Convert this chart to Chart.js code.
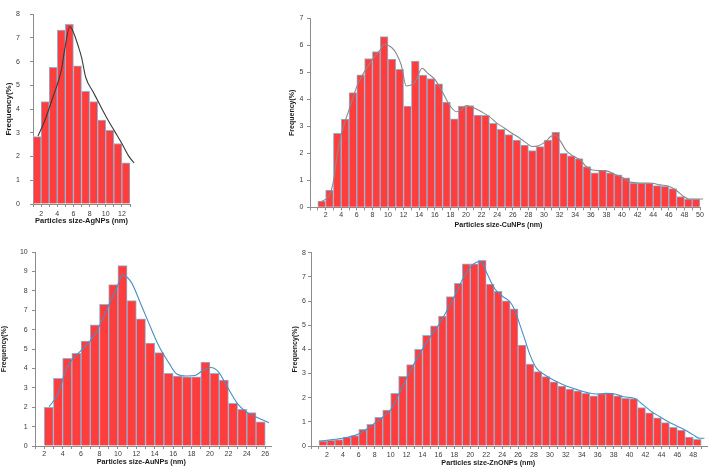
<!DOCTYPE html>
<html><head><meta charset="utf-8">
<script src="https://cdn.jsdelivr.net/npm/chart.js@4.4.1/dist/chart.umd.min.js"></script>
<style>
html,body{margin:0;padding:0;background:#fff;width:709px;height:469px;overflow:hidden;position:relative}
canvas{position:absolute;display:block}
</style></head><body>
<canvas id="cAg" width="150" height="232" style="left:0px;top:0px"></canvas>
<canvas id="cCu" width="454" height="232" style="left:255px;top:0px"></canvas>
<canvas id="cAu" width="280" height="234" style="left:0px;top:235px"></canvas>
<canvas id="cZn" width="427" height="234" style="left:282px;top:235px"></canvas>
<script>
// ---------- DATA ----------
// AgNPs
const agBinStart = [1,2,3,4,5,6,7,8,9,10,11,12];
const agFreq = [2.84,4.32,5.76,7.33,7.57,5.82,4.75,4.32,3.54,3.11,2.55,1.74];
const agFitX = [1.62,2.45,3.48,4.52,4.93,5.55,6.05,6.59,7.0,7.54,8.45,9.27,10.1,11.14,11.96,12.8,13.5];
const agFitY = [2.87,3.51,4.52,5.66,6.53,7.47,7.2,6.66,6.19,5.32,4.72,4.18,3.65,3.04,2.57,2.04,1.73];
const agTickLabels = ['2','4','6','8','10','12'];

// CuNPs
const cuBinStart = [1,2,3,4,5,6,7,8,9,10,11,12,13,14,15,16,17,18,19,20,21,22,23,24,25,26,27,28,29,30,31,32,33,34,35,36,37,38,39,40,41,42,43,44,45,46,47,48,49];
const cuFreq = [0.23,0.64,2.74,3.27,4.25,4.91,5.51,5.77,6.32,5.49,5.11,3.75,5.42,4.9,4.77,4.57,3.9,3.28,3.75,3.77,3.42,3.41,3.11,2.89,2.69,2.49,2.30,2.10,2.25,2.49,2.79,2.0,1.91,1.80,1.51,1.28,1.37,1.28,1.20,1.09,0.90,0.90,0.90,0.80,0.78,0.69,0.40,0.30,0.30];
const cuFitX = [1.44,2.51,3.03,3.45,4.0,4.99,6.0,6.97,7.98,9.0,9.56,10.5,11.06,11.7,12.34,13.2,13.62,14.35,15.12,16.06,16.83,18.03,18.75,19.39,20.0,20.9,21.96,23.0,24.0,24.95,25.9,26.9,27.9,28.5,29.3,30.2,30.85,31.4,32.15,32.8,33.7,34.7,35.4,36.2,37.0,37.97,39.0,40.0,40.9,41.9,42.97,43.9,44.9,45.9,46.9,47.9,48.6,50.4];
const cuFitY = [0.21,0.46,1.01,1.88,2.7,3.6,4.47,5.02,5.46,5.83,6.04,5.91,5.7,5.27,4.49,4.57,4.72,5.15,4.96,4.72,4.35,3.73,3.54,3.6,3.77,3.70,3.54,3.36,3.11,2.93,2.74,2.56,2.35,2.25,2.28,2.43,2.62,2.68,2.43,2.12,1.90,1.75,1.51,1.38,1.36,1.35,1.23,1.11,0.95,0.91,0.90,0.89,0.83,0.79,0.64,0.40,0.31,0.31];
const cuTickLabels = ['2','4','6','8','10','12','14','16','18','20','22','24','26','28','30','32','34','36','38','40','42','44','46','48','50'];

// AuNPs
const auBinStart = [2,3,4,5,6,7,8,9,10,11,12,13,14,15,16,17,18,19,20,21,22,23,24,25];
const auFreq = [1.99,3.49,4.52,4.78,5.41,6.25,7.30,8.32,9.30,7.49,6.56,5.31,4.81,3.75,3.61,3.57,3.57,4.33,3.75,3.40,2.20,1.89,1.72,1.24];
const auFitX = [2.54,3.52,4.42,5.51,6.59,7.68,8.77,9.85,10.5,11.48,12.38,13.29,14.45,15.55,16.4,17.46,18.37,19.28,20.1,20.9,21.86,22.96,23.9,24.8,26.4];
const auFitY = [2.03,2.71,4.0,4.69,5.2,5.89,7.01,8.13,8.81,8.42,7.44,6.41,5.15,4.27,3.71,3.61,3.63,3.92,4.05,3.83,3.06,2.2,1.77,1.55,1.2];
const auTickLabels = ['2','4','6','8','10','12','14','16','18','20','22','24','26'];

// ZnONPs
const znBinStart = [1,2,3,4,5,6,7,8,9,10,11,12,13,14,15,16,17,18,19,20,21,22,23,24,25,26,27,28,29,30,31,32,33,34,35,36,37,38,39,40,41,42,43,44,45,46,47,48];
const znFreq = [0.20,0.23,0.27,0.37,0.43,0.69,0.90,1.19,1.49,2.18,2.88,3.37,4.0,4.58,4.97,5.38,6.18,6.73,7.54,7.54,7.68,6.70,6.40,6.01,5.68,4.18,3.39,3.08,2.87,2.66,2.48,2.36,2.28,2.18,2.08,2.17,2.18,2.08,1.97,1.96,1.59,1.37,1.17,0.97,0.77,0.66,0.37,0.28];
const znFitX = [1.0,2.0,3.0,4.0,4.84,5.97,6.98,7.98,8.99,9.99,10.99,11.99,12.97,13.98,14.98,15.99,16.99,17.99,18.99,19.99,20.75,21.37,22.0,23.05,24.1,24.99,25.58,26.3,26.87,27.5,28.33,29.38,30.43,31.47,32.52,33.56,34.61,35.87,37.1,38.17,39.21,40.68,41.72,42.77,43.82,44.87,45.92,46.97,48.0,48.84,49.4];
const znFitY = [0.2,0.24,0.28,0.32,0.38,0.5,0.69,0.94,1.19,1.49,2.11,2.8,3.42,4.0,4.52,5.0,5.56,6.18,6.87,7.39,7.6,7.63,7.21,6.52,6.18,5.97,5.63,4.95,4.39,3.77,3.21,2.94,2.73,2.57,2.43,2.32,2.22,2.15,2.18,2.15,2.04,1.97,1.7,1.42,1.21,1.0,0.83,0.66,0.46,0.32,0.32];
const znTickLabels = ['2','4','6','8','10','12','14','16','18','20','22','24','26','28','30','32','34','36','38','40','42','44','46','48'];

// ---------- RENDERING ----------
Chart.defaults.font.family = '"Liberation Sans", Arial, sans-serif';
const BAR_FILL = '#ff3d3d';
const BAR_EDGE = '#8db6d6';
const AXIS = '#8c8c8c';
const TICK_TXT = '#3a3a3a';

const xCaption = {
  id: 'xCaption',
  afterDraw(chart, args, o) {
    const {ctx, chartArea} = chart;
    ctx.save();
    ctx.font = 'bold ' + o.size + 'px "Liberation Sans", Arial, sans-serif';
    ctx.fillStyle = '#1a1a1a';
    ctx.textAlign = 'center';
    ctx.textBaseline = 'middle';
    ctx.fillText(o.text, (chartArea.left + chartArea.right) / 2 + o.shift, chart.height - o.fromBottom);
    ctx.restore();
  }
};

function makePanel(id, d, s) {
  const bars = d.bins.map((b, i) => ({x: b + 0.5, y: d.freq[i]}));
  const fit = d.fitX.map((x, i) => ({x: x, y: d.fitY[i]}));
  new Chart(document.getElementById(id), {
    type: 'bar',
    data: {
      datasets: [
        {type: 'line', data: fit, borderColor: s.lineColor, borderWidth: 1.1, pointRadius: 0,
         cubicInterpolationMode: 'monotone', fill: false, clip: false, order: 0},
        {type: 'bar', data: bars, backgroundColor: BAR_FILL, borderColor: BAR_EDGE, borderWidth: 1,
         barPercentage: 1, categoryPercentage: 1, order: 1}
      ]
    },
    options: {
      responsive: false, animation: false, events: [],
      layout: {padding: s.pad},
      plugins: {legend: {display: false}, tooltip: {enabled: false},
        xCaption: {text: d.xTitle, size: s.xTitleSize, shift: s.xTitleShift, fromBottom: s.xTitleFromBottom}},
      scales: {
        x: {
          type: 'linear', min: s.xMin, max: s.xMax, offset: false,
          grid: {display: true, drawOnChartArea: false, drawTicks: true, tickLength: 3, color: AXIS, offset: false},
          border: {display: true, color: AXIS, width: 1},
          ticks: {stepSize: 1, includeBounds: false, autoSkip: false, maxRotation: 0, padding: s.xTickPad,
            color: TICK_TXT, font: {size: 7},
            callback: v => d.tickLabels.includes(String(v)) ? String(v) : ''},
          afterFit: sc => { sc.height = s.xHeight; }
        },
        y: {
          min: 0, max: s.yMax,
          grid: {display: true, drawOnChartArea: false, drawTicks: true, tickLength: 3, color: AXIS},
          border: {display: true, color: AXIS, width: 1},
          ticks: {stepSize: 1, padding: s.yTickPad, color: TICK_TXT, font: {size: 7}},
          title: {display: true, text: 'Frequency(%)', color: '#1a1a1a',
            font: {size: s.yTitleSize, weight: 'bold'}, padding: {top: s.yTitlePad, bottom: 0}},
          afterFit: sc => { sc.width = s.yWidth; }
        }
      }
    },
    plugins: [xCaption]
  });
}

makePanel('cAg',
  {bins: agBinStart, freq: agFreq, fitX: agFitX, fitY: agFitY, tickLabels: agTickLabels, xTitle: 'Particles size-AgNPs (nm)'},
  {lineColor: '#3a3a3a', pad: {left: 0, top: 5, right: 20, bottom: 0}, xMin: 1, xMax: 13, yMax: 8,
   xHeight: 28, yWidth: 33, xTickPad: 2.5, yTickPad: 10, yTitleSize: 8, yTitlePad: 3.5,
   xTitleSize: 7.5, xTitleShift: 0, xTitleFromBottom: 11});

makePanel('cCu',
  {bins: cuBinStart, freq: cuFreq, fitX: cuFitX, fitY: cuFitY, tickLabels: cuTickLabels, xTitle: 'Particles size-CuNPs (nm)'},
  {lineColor: '#8a8a8a', pad: {left: 0, top: 18.3, right: 9, bottom: 0}, xMin: 0, xMax: 50, yMax: 7,
   xHeight: 24.7, yWidth: 55, xTickPad: 1, yTickPad: 3.7, yTitleSize: 7, yTitlePad: 33,
   xTitleSize: 7.1, xTitleShift: -6.5, xTitleFromBottom: 7});

makePanel('cAu',
  {bins: auBinStart, freq: auFreq, fitX: auFitX, fitY: auFitY, tickLabels: auTickLabels, xTitle: 'Particles size-AuNPs (nm)'},
  {lineColor: '#4a8fc4', pad: {left: 0, top: 17, right: 8.3, bottom: 0}, xMin: 1, xMax: 26.7, yMax: 10,
   xHeight: 23, yWidth: 35, xTickPad: 1, yTickPad: 4.3, yTitleSize: 7, yTitlePad: 0,
   xTitleSize: 7.2, xTitleShift: -12, xTitleFromBottom: 7.3});

makePanel('cZn',
  {bins: znBinStart, freq: znFreq, fitX: znFitX, fitY: znFitY, tickLabels: znTickLabels, xTitle: 'Particles size-ZnONPs (nm)'},
  {lineColor: '#4a8fc4', pad: {left: 0, top: 17.7, right: 1.4, bottom: 0}, xMin: 0, xMax: 49.8, yMax: 8,
   xHeight: 23, yWidth: 29, xTickPad: 1.5, yTickPad: 2, yTitleSize: 7, yTitlePad: 8.8,
   xTitleSize: 7.2, xTitleShift: -21, xTitleFromBottom: 5.7});
</script>
</body></html>
